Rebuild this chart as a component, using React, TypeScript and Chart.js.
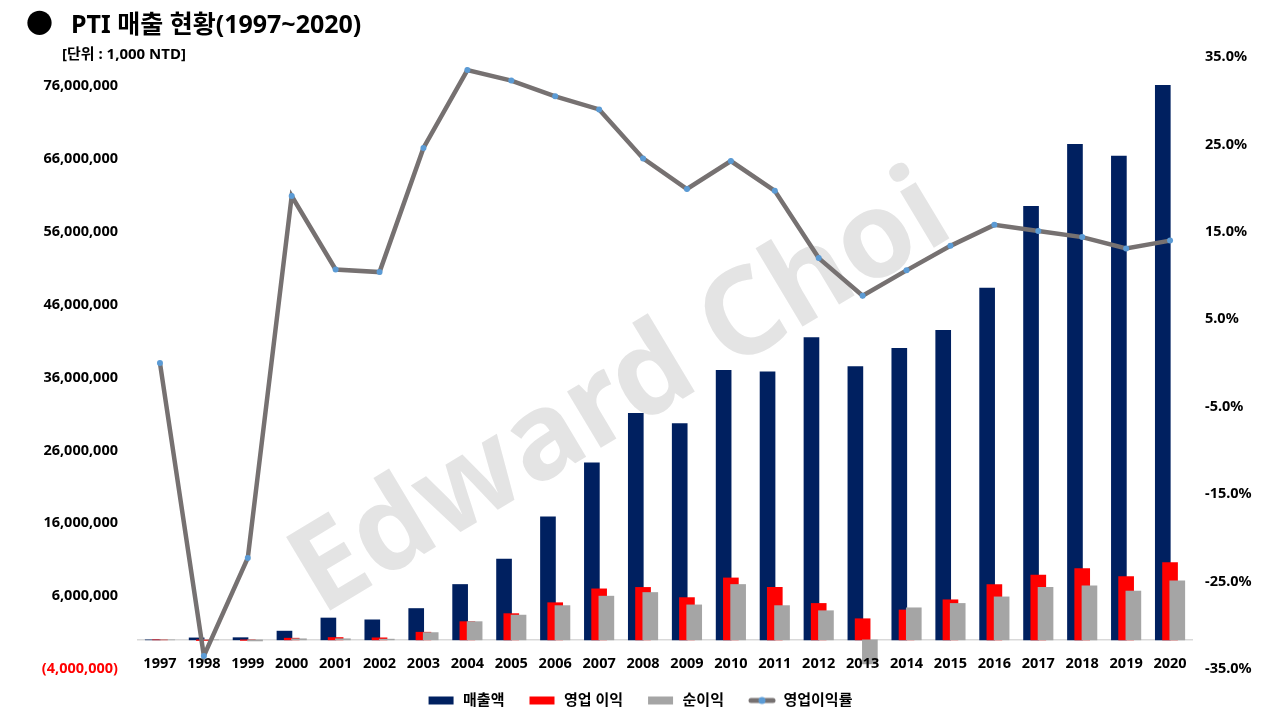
import React, { useEffect, useRef } from 'react';
import { Chart, registerables } from 'chart.js';
Chart.register(...registerables);

// values in 1,000 NTD
const years = ['1997', '1998', '1999', '2000', '2001', '2002', '2003', '2004', '2005', '2006', '2007', '2008',
    '2009', '2010', '2011', '2012', '2013', '2014', '2015', '2016', '2017', '2018', '2019', '2020'];
const revenue = [0, 270000, 300000, 1200000, 3000000, 2750000, 4300000, 7600000, 11100000, 16900000, 24300000, 31100000,
    29700000, 37000000, 36800000, 41500000, 37500000, 40000000, 42500000, 48300000, 59500000, 68000000, 66400000, 76100000];
const operatingIncome = [0, -90000, -70000, 230000, 320000, 280000, 1050000, 2500000, 3600000, 5100000, 7000000, 7200000,
    5800000, 8500000, 7200000, 5000000, 2900000, 4100000, 5500000, 7600000, 8900000, 9800000, 8700000, 10600000];
const netIncome = [0, 0, -150000, 150000, 150000, 100000, 1000000, 2500000, 3400000, 4700000, 6000000, 6500000,
    4800000, 7600000, 4700000, 4000000, -3300000, 4400000, 5000000, 5900000, 7200000, 7400000, 6700000, 8100000];
// 영업이익률 (%)
const operatingMargin = [0, -33.5, -22.3, 19.1, 10.7, 10.4, 24.6, 33.5, 32.3, 30.5, 29.0, 23.4,
    19.9, 23.1, 19.7, 12.0, 7.7, 10.6, 13.4, 15.8, 15.1, 14.4, 13.1, 14.0];

const leftTicks = [-4000000, 6000000, 16000000, 26000000, 36000000, 46000000, 56000000, 66000000, 76000000];
const rightTicks = [-35, -25, -15, -5, 5, 15, 25, 35];

const FONT = '"Noto Sans", "Noto Sans CJK KR", sans-serif';
const NAVY = '#002060';
const RED = '#FF0000';
const GRAY = '#A5A5A5';
const LINE = '#767171';
const DOT = '#5B9BD5';
const SHIFT = 0.165; // bar overlap offset, in category units

const swatch = (color: string | null) => {
    const c = document.createElement('canvas');
    c.width = 28;
    c.height = 12;
    const ctx = c.getContext('2d')!;
    if (color) {
        ctx.fillStyle = color;
        ctx.fillRect(1, 2, 25, 8);
    } else {
        ctx.strokeStyle = LINE;
        ctx.lineWidth = 5;
        ctx.lineCap = 'round';
        ctx.beginPath();
        ctx.moveTo(3, 6);
        ctx.lineTo(25, 6);
        ctx.stroke();
        ctx.fillStyle = DOT;
        ctx.beginPath();
        ctx.arc(14, 6, 3.5, 0, Math.PI * 2);
        ctx.fill();
    }
    return c;
};

const fmt = (v: number) => Math.abs(v).toLocaleString('en-US');

const PtiChart: React.FC = () => {
    const ref = useRef<HTMLCanvasElement>(null);

    useEffect(() => {
        if (!ref.current) return;
        const swatches = [swatch(NAVY), swatch(RED), swatch(GRAY), swatch(null)];
        const tickFont = { family: FONT, size: 14.5, weight: 'bold' as const };

        const chart = new Chart(ref.current, {
            type: 'bar',
            data: {
                datasets: [
                    {
                        type: 'bar', label: '매출액', order: 3,
                        data: revenue.map((v, i) => ({ x: i - SHIFT, y: v })),
                        backgroundColor: NAVY, barThickness: 15, grouped: false, yAxisID: 'y',
                    },
                    {
                        type: 'bar', label: '영업 이익', order: 2,
                        data: operatingIncome.map((v, i) => ({ x: i, y: v })),
                        backgroundColor: RED, barThickness: 15, grouped: false, yAxisID: 'y',
                    },
                    {
                        type: 'bar', label: '순이익', order: 1,
                        data: netIncome.map((v, i) => ({ x: i + SHIFT, y: v })),
                        backgroundColor: GRAY, barThickness: 15, grouped: false, yAxisID: 'y',
                    },
                    {
                        type: 'line', label: '영업이익률', order: 0,
                        data: operatingMargin.map((v, i) => ({ x: i, y: v })),
                        borderColor: LINE, borderWidth: 4.5, tension: 0,
                        pointRadius: 3, pointBackgroundColor: DOT, pointBorderWidth: 0,
                        yAxisID: 'y1',
                    },
                ] as any,
            },
            options: {
                responsive: false,
                maintainAspectRatio: false,
                animation: false,
                layout: { padding: { top: 57, bottom: 2, left: 0, right: 0 } },
                scales: {
                    x: {
                        type: 'linear',
                        position: { y: 0 } as any,
                        min: -0.5,
                        max: 23.5,
                        offset: false,
                        z: 1,
                        grid: { display: false, drawTicks: false },
                        border: { display: true, color: '#D9D9D9', width: 1.5 },
                        afterBuildTicks: (s: any) => { s.ticks = years.map((_, i) => ({ value: i })); },
                        ticks: {
                            z: 1, autoSkip: false, maxRotation: 0, padding: 15, color: '#000', font: tickFont,
                            callback: (v: any) => years[v] ?? '',
                        },
                    },
                    y: {
                        position: 'left',
                        min: -4000000,
                        max: 80000000,
                        afterBuildTicks: (s: any) => { s.ticks = leftTicks.map(value => ({ value })); },
                        afterFit: (s: any) => { s.width = 138; },
                        grid: { display: false },
                        border: { display: false },
                        ticks: {
                            padding: 12, font: tickFont,
                            color: (c: any) => (c.tick && c.tick.value < 0 ? RED : '#000'),
                            callback: (v: any) => (v < 0 ? `(${fmt(v)})` : fmt(v)),
                        },
                    },
                    y1: {
                        position: 'right',
                        min: -35,
                        max: 35,
                        afterBuildTicks: (s: any) => { s.ticks = rightTicks.map(value => ({ value })); },
                        afterFit: (s: any) => { s.width = 88; },
                        grid: { display: false },
                        border: { display: false },
                        ticks: {
                            padding: 5, color: '#000', font: tickFont,
                            callback: (v: any) => `${Number(v).toFixed(1)}%`,
                        },
                    },
                },
                plugins: {
                    tooltip: { enabled: false },
                    legend: {
                        position: 'bottom',
                        labels: {
                            usePointStyle: true,
                            pointStyleWidth: 28,
                            padding: 24,
                            color: '#000',
                            font: { family: FONT, size: 15, weight: 'bold' },
                            sort: (a: any, b: any) => a.datasetIndex - b.datasetIndex,
                            generateLabels: (c: any) =>
                                Chart.defaults.plugins.legend.labels.generateLabels(c).map((it: any) => ({
                                    ...it,
                                    pointStyle: swatches[it.datasetIndex],
                                })),
                        },
                    },
                },
            } as any,
        });

        return () => {
            chart.destroy();
        };
    }, []);

    return (
        <div style={{ position: 'absolute', left: 0, top: 0, width: 1280, height: 720, fontFamily: FONT, background: '#fff' }}>
            <div style={{
                position: 'absolute', left: 615, top: 385, transform: 'translate(-50%, -50%) rotate(-31deg)',
                fontSize: 120, fontWeight: 'bold', color: '#E4E4E4', whiteSpace: 'nowrap',
            }}>Edward Choi</div>
            <canvas ref={ref} width={1280} height={720} style={{ position: 'absolute', left: 0, top: 0 }}></canvas>
            <div style={{ position: 'absolute', left: 26, top: 2, fontSize: 25, fontWeight: 'bold', color: '#000', whiteSpace: 'nowrap' }}>
                <span style={{ fontSize: 27, marginRight: 18 }}>●</span>PTI 매출 현황(1997~2020)
            </div>
            <div style={{ position: 'absolute', left: 62, top: 42, fontSize: 15, fontWeight: 'bold', color: '#000' }}>
                [단위 : 1,000 NTD]
            </div>
        </div>
    );
};

const App: React.FC = () => <PtiChart />;

export default App;
